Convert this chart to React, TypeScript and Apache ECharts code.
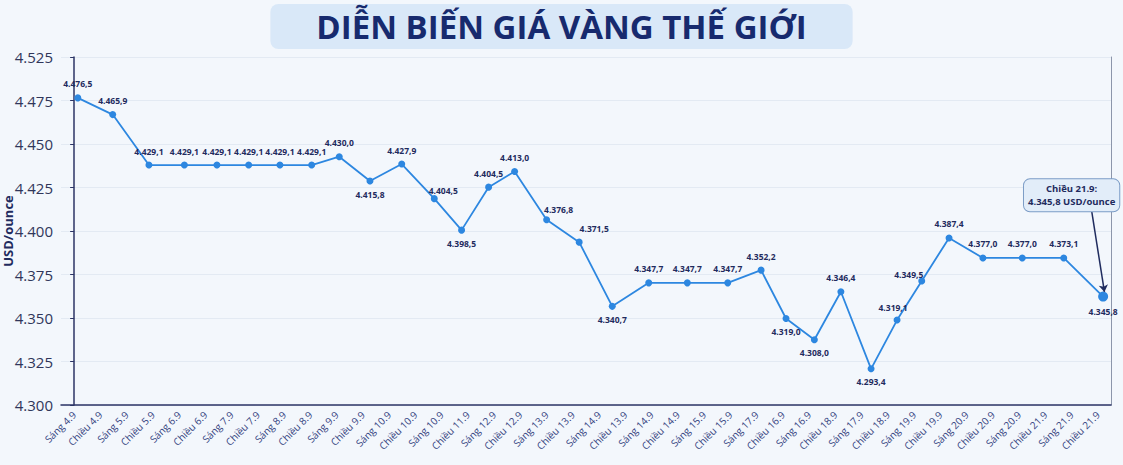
import { useEffect, useRef } from 'react'
import * as echarts from 'echarts'

// nhãn trục hoành, giữ nguyên như ảnh gốc
const categories = [
  'Sáng 4.9', 'Chiều 4.9', 'Sáng 5.9', 'Chiều 5.9', 'Sáng 6.9', 'Chiều 6.9',
  'Sáng 7.9', 'Chiều 7.9', 'Sáng 8.9', 'Chiều 8.9', 'Sáng 9.9', 'Chiều 9.9',
  'Sáng 10.9', 'Chiều 10.9', 'Sáng 10.9', 'Chiều 11.9', 'Sáng 12.9', 'Chiều 12.9',
  'Sáng 13.9', 'Chiều 13.9', 'Sáng 14.9', 'Chiều 13.9', 'Sáng 14.9', 'Chiều 14.9',
  'Sáng 15.9', 'Chiều 15.9', 'Sáng 17.9', 'Chiều 16.9', 'Sáng 16.9', 'Chiều 18.9',
  'Sáng 17.9', 'Chiều 18.9', 'Sáng 19.9', 'Chiều 19.9', 'Sáng 20.9', 'Chiều 20.9',
  'Sáng 20.9', 'Chiều 21.9', 'Sáng 21.9', 'Chiều 21.9'
]

// where each point sits along the x axis, in category units
const pointPos = [
  0.14, 1.47, 2.85, 4.2, 5.44, 6.65, 7.84, 9.05, 10.1, 11.27, 12.48,
  13.72, 14.76, 15.79, 16.78, 18.0, 19.24, 20.5, 21.89, 23.36, 24.9,
  26.17, 27.12, 28.2, 29.21, 30.36, 31.35, 32.29, 33.33, 34.62, 36.12,
  37.7, 39.2
]

// giá như được vẽ trên hình (USD/ounce)
const plotted = [
  4476.5, 4466.9, 4437.9, 4437.9, 4437.9, 4437.9, 4437.9, 4437.9, 4442.7, 4428.7, 4438.5,
  4418.6, 4400.5, 4425.2, 4434.2, 4406.5, 4393.6, 4356.7, 4370.2, 4370.2, 4370.2,
  4377.5, 4349.7, 4337.5, 4365.1, 4320.8, 4348.8, 4371.3, 4396.0, 4384.5, 4384.5,
  4384.5, 4362.3
]

// nhãn giá in trên điểm
const priceLabels = [
  '4.476,5', '4.465,9', '4.429,1', '4.429,1', '4.429,1', '4.429,1', '4.429,1', '4.429,1',
  '4.430,0', '4.415,8', '4.427,9', '4.404,5', '4.398,5', '4.404,5', '4.413,0', '4.376,8',
  '4.371,5', '4.340,7', '4.347,7', '4.347,7', '4.347,7', '4.352,2', '4.319,0', '4.308,0',
  '4.346,4', '4.293,4', '4.319,1', '4.349,5', '4.387,4', '4.377,0', '4.377,0', '4.373,1',
  '4.345,8'
]

const yTickLabels = ['4.300', '4.325', '4.350', '4.375', '4.400', '4.425', '4.450', '4.475', '4.525']

const calloutText = 'Chiều 21.9:\n4.345,8 USD/ounce'
const calloutAt = [38.0, 4420.5]
const arrowFrom = [38.76, 4411.8]
const arrowTo = [39.25, 4365.0]

// label placement tweaks (index -> where)
const belowIdx = new Set([9, 12, 17, 22, 23, 25, 32])
const labelNudge: Record<number, number[]> = {
  11: [9, 5.5],
  15: [12, 3.5],
  16: [15, 0.5],
  26: [-4, 1.5],
  27: [-13, 7.5]
}

const NAVY = '#1f2b5e'
const BLUE = '#2d87e0'
const FONT = '"Open Sans", "Noto Sans", sans-serif'

function App() {
  const chartRef = useRef<HTMLDivElement>(null)

  useEffect(() => {
    const chart = echarts.init(chartRef.current, null, { renderer: 'svg' })

    const lastIdx = plotted.length - 1
    const seriesData = plotted.map((v, i) => {
      const below = belowIdx.has(i)
      const nudge = labelNudge[i]
      return {
        value: [pointPos[i], v],
        symbolSize: i === lastIdx ? 10 : 7,
        label: {
          position: below ? 'bottom' : 'top',
          distance: below ? 5 : 6,
          offset: nudge || [0, 0]
        }
      }
    })

    chart.setOption({
      animation: false,
      backgroundColor: '#f3f7fc',
      textStyle: { fontFamily: FONT },
      title: {
        text: 'DIỄN BIẾN GIÁ VÀNG THẾ GIỚI',
        left: 'center',
        top: 4,
        padding: [6, 46],
        backgroundColor: '#d9e8f8',
        borderRadius: 8,
        textStyle: {
          fontFamily: FONT,
          fontSize: 33,
          fontWeight: 'bold',
          lineHeight: 33,
          color: '#172a6e'
        }
      },
      grid: { left: 61, right: 12, top: 57, bottom: 60, outerBoundsMode: 'none' },
      xAxis: [
        {
          type: 'category',
          data: categories,
          boundaryGap: true,
          axisLine: { lineStyle: { color: '#2c3566', width: 1.5 } },
          axisTick: { show: false },
          axisLabel: {
            interval: 0,
            rotate: 45,
            fontSize: 10,
            color: '#35437f',
            margin: 8
          },
          splitLine: { show: false }
        },
        {
          type: 'value',
          min: -0.5,
          max: categories.length - 0.5,
          show: false
        }
      ],
      yAxis: [
        {
          type: 'value',
          min: 4300,
          max: 4500,
          interval: 25,
          name: 'USD/ounce',
          nameLocation: 'middle',
          nameRotate: 90,
          nameGap: 47,
          nameMoveOverlap: false,
          nameTextStyle: { fontSize: 13, fontWeight: 'bold', color: NAVY },
          axisLine: { show: true, lineStyle: { color: '#2c3566', width: 1.5 } },
          axisTick: { show: true, length: 4, lineStyle: { color: '#2c3566' } },
          axisLabel: {
            fontSize: 15,
            color: '#30365a',
            margin: 8,
            formatter: (v: number) => yTickLabels[Math.round((v - 4300) / 25)] ?? ''
          },
          splitLine: { lineStyle: { color: '#e3eaf3', width: 1 } }
        },
        {
          type: 'value',
          position: 'right',
          min: 4300,
          max: 4500,
          interval: 25,
          axisLine: { show: true, lineStyle: { color: '#8c96ab', width: 1 } },
          axisTick: { show: false },
          axisLabel: { show: false },
          splitLine: { show: false }
        }
      ],
      series: [
        {
          type: 'line',
          xAxisIndex: 1,
          yAxisIndex: 0,
          data: seriesData,
          symbol: 'circle',
          lineStyle: { color: BLUE, width: 1.8 },
          itemStyle: { color: BLUE },
          label: {
            show: true,
            fontSize: 8.5,
            fontWeight: 'bold',
            color: NAVY,
            formatter: (p: any) => priceLabels[p.dataIndex]
          },
          markPoint: {
            symbol: 'rect',
            symbolSize: 1,
            itemStyle: { color: 'transparent' },
            label: {
              show: true,
              position: 'inside',
              formatter: calloutText,
              fontSize: 9.5,
              fontWeight: 'bold',
              lineHeight: 13,
              color: NAVY,
              align: 'center',
              backgroundColor: '#e2edf9',
              borderColor: '#7b9cc6',
              borderWidth: 1,
              borderRadius: 6,
              padding: [3, 4]
            },
            data: [{ coord: calloutAt }]
          },
          markLine: {
            silent: true,
            symbol: ['none', 'arrow'],
            symbolSize: 7,
            label: { show: false },
            lineStyle: { color: NAVY, width: 1.5, type: 'solid' },
            data: [[{ coord: arrowFrom }, { coord: arrowTo }]]
          }
        }
      ]
    })

    return () => {
      chart.dispose()
    }
  }, [])

  return (
    <div
      ref={chartRef}
      style={{ position: 'fixed', left: 0, top: 0, width: 1123, height: 465, background: '#f3f7fc' }}
    ></div>
  )
}

export default App
